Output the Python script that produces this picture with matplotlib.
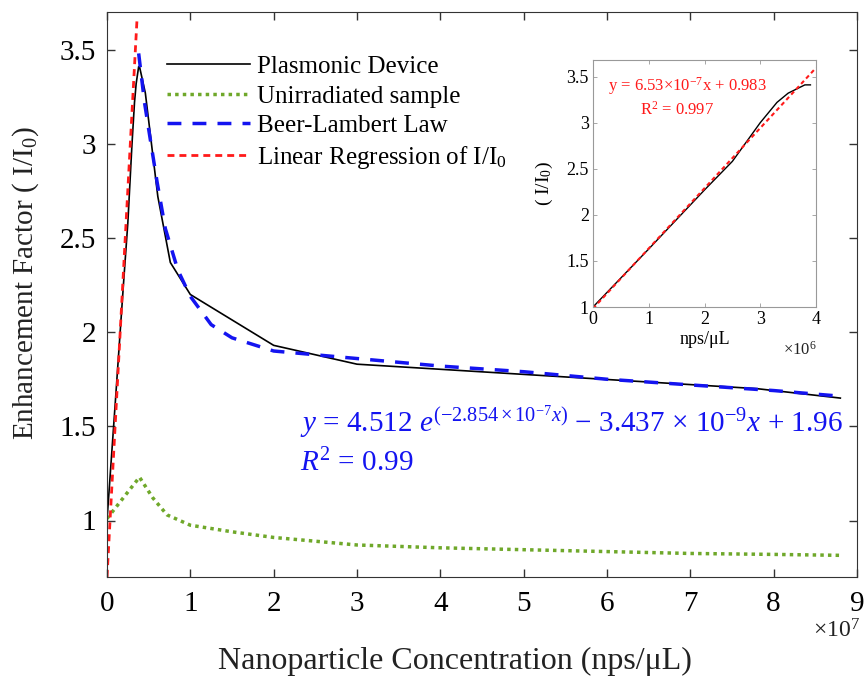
import matplotlib
matplotlib.use("Agg")
import matplotlib.pyplot as plt
from matplotlib.ticker import FuncFormatter

plt.rcParams["font.family"] = ["Liberation Serif", "DejaVu Serif"]
plt.rcParams["mathtext.fontset"] = "custom"
plt.rcParams["mathtext.rm"] = "Liberation Serif"
plt.rcParams["mathtext.it"] = "Liberation Serif:italic"

# --- data (x in nps/uL) ---
device_x = [0, 1.0e6, 2.0e6, 2.5e6, 3.0e6, 3.3e6, 3.5e6, 3.8e6, 3.9e6,
            4.6e6, 6.1e6, 7.6e6, 1.0e7, 2.0e7, 3.0e7, 7.8e7, 8.8e7]
device_y = [1.0, 1.63, 2.27, 2.58, 3.0, 3.22, 3.32, 3.41, 3.41,
            3.27, 2.72, 2.37, 2.20, 1.93, 1.83, 1.70, 1.65]

unirr_x = [0, 3.9e6, 5.5e6, 7.2e6, 1.0e7, 1.5e7, 2.0e7, 3.0e7, 4.0e7,
           5.0e7, 6.0e7, 7.0e7, 8.0e7, 8.8e7]
unirr_y = [1.01, 1.23, 1.12, 1.03, 0.975, 0.94, 0.91, 0.87, 0.855,
           0.845, 0.835, 0.825, 0.82, 0.815]

beer_x = [3.8e6, 4.5e6, 5.1e6, 6.0e6, 7.0e6, 8.5e6, 1.0e7, 1.25e7, 1.5e7,
          2.0e7, 3.0e7, 4.0e7, 5.0e7, 6.0e7, 7.0e7, 8.0e7, 8.8e7]
beer_y = [3.48, 3.22, 3.05, 2.80, 2.55, 2.33, 2.19, 2.04, 1.97,
          1.90, 1.86, 1.82, 1.79, 1.75, 1.72, 1.69, 1.66]

linreg_x = [0, 3.6e6]
linreg_y = [0.70, 3.66]

# inset: linear region only
inset_lin_x = [0, 4.0e6]
inset_lin_y = [0.983, 3.595]

c_green = "#6fa82a"
c_blue = "#1414f0"
c_red = "#ff1a1a"

fig = plt.figure(figsize=(8.65, 6.77), dpi=100)
W, H = 865, 677


def px_axes(l, t, r, b):
    return [l / W, 1 - b / H, (r - l) / W, (b - t) / H]


def ptext(x, y, s, **kw):
    # place text at pixel position measured from top-left
    return fig.text(x / W, 1 - y / H, s, **kw)


ax = fig.add_axes(px_axes(107, 12, 857, 577))
ax.plot(device_x, device_y, color="black", lw=1.2, label="Plasmonic Device")
ax.plot(unirr_x, unirr_y, color=c_green, lw=2.5, dashes=(1, 1.2),
        label="Unirradiated sample")
ax.plot(beer_x, beer_y, color=c_blue, lw=2.5, dashes=(4, 3.2),
        label="Beer-Lambert Law")
ax.plot(linreg_x, linreg_y, color=c_red, lw=2, dashes=(2.5, 1.8),
        label=r"Linear Regression of I/I$_0$")

ax.set_xlim(0, 9e7)
ax.set_ylim(0.7, 3.7)
ax.set_xticks([i * 1e7 for i in range(10)])
ax.set_yticks([1, 1.5, 2, 2.5, 3, 3.5])
ax.xaxis.set_major_formatter(FuncFormatter(lambda v, p: f"{v / 1e7:g}"))
ax.yaxis.set_major_formatter(FuncFormatter(lambda v, p: f"{v:g}"))
ax.tick_params(direction="in", top=True, right=True, labelsize=21,
               length=6, width=1, color="#333333")
ax.tick_params(axis="x", pad=10)
ax.tick_params(axis="y", pad=8)
for s in ax.spines.values():
    s.set_color("#333333")
ax.set_xlabel("Nanoparticle Concentration (nps/\u03bcL)", fontsize=23,
              color="#222222")
ax.xaxis.set_label_coords(0.464, -0.124)
ax.set_ylabel(r"Enhancement Factor ( I/I$_0$)", fontsize=21, color="#222222")
ax.yaxis.set_label_coords(-0.088, 0.52)
ptext(860, 638, r"$\times$10$^7$", fontsize=17, ha="right", va="baseline",
      color="#222222")

leg = ax.legend(loc="upper left", bbox_to_anchor=(0.08, 0.923), frameon=False,
                fontsize=18, handlelength=3.3, handletextpad=0.3,
                labelspacing=0.28, borderpad=0, borderaxespad=0)

ptext(300, 422, r"$y$ = 4.512 $e^{(-2.854\times10^{-7}x)}$ $-$ 3.437 $\times$ 10$^{-9}$$x$ + 1.96",
      fontsize=21, color=c_blue, va="center", ha="left")
ptext(300, 463, r"$R^2$ = 0.99", fontsize=21, color=c_blue,
      va="center", ha="left")

# inset
ax2 = fig.add_axes(px_axes(593, 60, 816, 307))
ax2.plot(device_x[:9], device_y[:9], color="black", lw=1)
ax2.plot(inset_lin_x, inset_lin_y, color=c_red, lw=1.5, dashes=(2, 1.5))
ax2.set_xlim(0, 4e6)
ax2.set_ylim(1, 3.68)
ax2.set_xticks([0, 1e6, 2e6, 3e6, 4e6])
ax2.set_yticks([1, 1.5, 2, 2.5, 3, 3.5])
ax2.xaxis.set_major_formatter(FuncFormatter(lambda v, p: f"{v / 1e6:g}"))
ax2.yaxis.set_major_formatter(FuncFormatter(lambda v, p: f"{v:g}"))
ax2.tick_params(direction="in", top=True, right=True, labelsize=13,
                length=3, width=0.6, color="#999999", pad=3)
for s in ax2.spines.values():
    s.set_color("#999999")
    s.set_linewidth(0.8)
ax2.set_xlabel("nps/\u03bcL", fontsize=13, labelpad=2)
ax2.set_ylabel(r"( I/I$_0$)", fontsize=14, labelpad=8)
ptext(817, 355, r"$\times$10$^6$", fontsize=12, ha="right", va="baseline",
      color="#222222")
ptext(608, 86, r"y = 6.53$\times$10$^{-7}$x + 0.983", fontsize=12,
      color=c_red, va="center", ha="left")
ptext(640, 110, r"R$^2$ = 0.997", fontsize=12, color=c_red,
      va="center", ha="left")

fig.savefig("out.png", dpi=100)
